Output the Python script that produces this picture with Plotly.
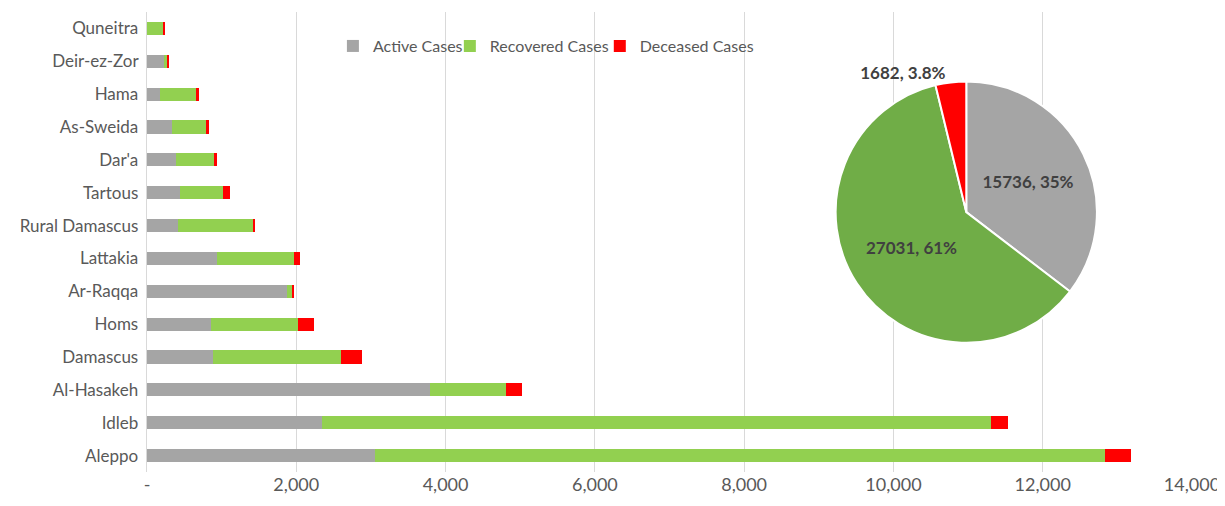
import plotly.graph_objects as go

governorates = ["Aleppo", "Idleb", "Al-Hasakeh", "Damascus", "Homs", "Ar-Raqqa", "Lattakia",
                "Rural Damascus", "Tartous", "Dar'a", "As-Sweida", "Hama", "Deir-ez-Zor", "Quneitra"]
active = [3057, 2347, 3785, 881, 854, 1881, 944, 412, 445, 392, 335, 178, 223, 2]
recovered = [9779, 8958, 1027, 1714, 1170, 67, 1022, 1014, 571, 505, 459, 482, 45, 218]
deceased = [347, 230, 215, 290, 215, 15, 90, 25, 95, 40, 40, 40, 15, 25]

pie_labels = ["Active Cases", "Recovered Cases", "Deceased Cases"]
pie_values = [15736, 27031, 1682]
pie_text = ["15736, 35%", "27031, 61%", "1682, 3.8%"]

x_ticks = [0, 2000, 4000, 6000, 8000, 10000, 12000, 14000]
x_ticktext = ["-", "2,000", "4,000", "6,000", "8,000", "10,000", "12,000", "14,000"]

FONT = "Lato"
TXT = "#595959"
fig = go.Figure()
fig.add_trace(go.Bar(y=governorates, x=active, orientation="h", name="Active Cases",
                     marker=dict(color="#A5A5A5", line=dict(width=0)), legend="legend"))
fig.add_trace(go.Bar(y=governorates, x=recovered, orientation="h", name="Recovered Cases",
                     marker=dict(color="#92D050", line=dict(width=0)), legend="legend2"))
fig.add_trace(go.Bar(y=governorates, x=deceased, orientation="h", name="Deceased Cases",
                     marker=dict(color="#FF0000", line=dict(width=0)), legend="legend3"))
fig.add_trace(go.Pie(labels=pie_labels, values=pie_values, text=pie_text,
                     textinfo="text", sort=False, direction="clockwise", rotation=0,
                     textposition=["inside", "inside", "outside"],
                     insidetextorientation="horizontal",
                     marker=dict(colors=["#A5A5A5", "#70AD47", "#FF0000"],
                                 line=dict(color="white", width=2)),
                     textfont=dict(family=FONT, size=17, color="#404040", weight="bold"),
                     showlegend=False, automargin=False,
                     domain=dict(x=[0.659, 0.909], y=[0.28, 0.85])))

def leg(x):
    return dict(orientation="h", x=x, y=0.926, xanchor="left", yanchor="middle",
                font=dict(size=16, color=TXT), bgcolor="rgba(0,0,0,0)", itemwidth=30)

fig.update_layout(
    barmode="stack", bargap=0.6,
    width=1225, height=506,
    margin=dict(l=138.5, r=41, t=4, b=41.5, autoexpand=False),
    plot_bgcolor="white", paper_bgcolor="white",
    font=dict(family=FONT, size=17, color=TXT),
    legend=leg(0.1779), legend2=leg(0.2898), legend3=leg(0.4333),
    xaxis=dict(range=[0, 14000], tickvals=x_ticks, ticktext=x_ticktext, automargin=False,
               showgrid=True, gridcolor="#D9D9D9", gridwidth=1, zeroline=False,
               showline=False, ticks="", tickfont=dict(size=18, color=TXT)),
    yaxis=dict(showgrid=False, showline=True, linecolor="#D9D9D9", ticks="", automargin=False,
               tickfont=dict(size=17, color=TXT), ticksuffix=" "),
)
fig.write_html("out.html")
